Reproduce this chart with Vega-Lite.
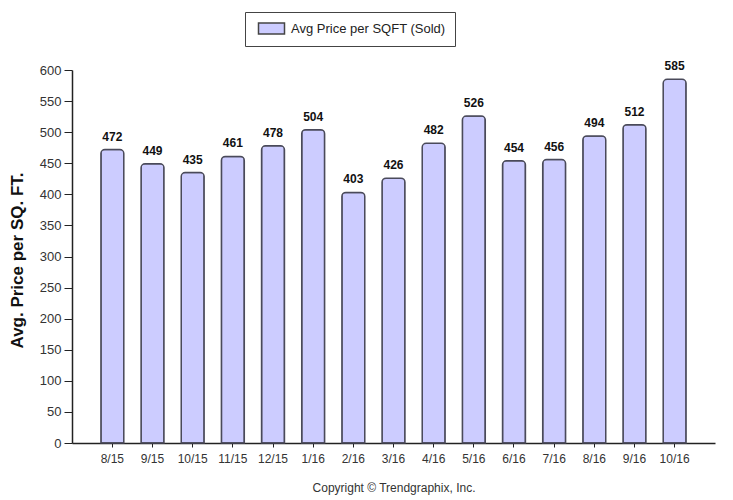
{
  "$schema": "https://vega.github.io/schema/vega-lite/v6.json",
  "width": 643,
  "height": 373,
  "autosize": {"type": "none"},
  "padding": {"left": 72, "top": 70, "right": 18, "bottom": 57},
  "background": "white",
  "config": {
    "font": "Liberation Sans",
    "view": {"stroke": null},
    "axis": {"grid": false, "domainColor": "#222", "tickColor": "#222", "labelColor": "#333", "labelFont": "Liberation Sans"}
  },
  "data": {
    "values": [
      {"month": "8/15", "price": 472, "series": "Avg Price per SQFT (Sold)"},
      {"month": "9/15", "price": 449, "series": "Avg Price per SQFT (Sold)"},
      {"month": "10/15", "price": 435, "series": "Avg Price per SQFT (Sold)"},
      {"month": "11/15", "price": 461, "series": "Avg Price per SQFT (Sold)"},
      {"month": "12/15", "price": 478, "series": "Avg Price per SQFT (Sold)"},
      {"month": "1/16", "price": 504, "series": "Avg Price per SQFT (Sold)"},
      {"month": "2/16", "price": 403, "series": "Avg Price per SQFT (Sold)"},
      {"month": "3/16", "price": 426, "series": "Avg Price per SQFT (Sold)"},
      {"month": "4/16", "price": 482, "series": "Avg Price per SQFT (Sold)"},
      {"month": "5/16", "price": 526, "series": "Avg Price per SQFT (Sold)"},
      {"month": "6/16", "price": 454, "series": "Avg Price per SQFT (Sold)"},
      {"month": "7/16", "price": 456, "series": "Avg Price per SQFT (Sold)"},
      {"month": "8/16", "price": 494, "series": "Avg Price per SQFT (Sold)"},
      {"month": "9/16", "price": 512, "series": "Avg Price per SQFT (Sold)"},
      {"month": "10/16", "price": 585, "series": "Avg Price per SQFT (Sold)"}
    ]
  },
  "encoding": {
    "x": {
      "field": "month", "type": "nominal", "sort": null,
      "scale": {"paddingInner": 0.43, "paddingOuter": 0.72},
      "axis": {
        "title": "Copyright © Trendgraphix, Inc.",
        "titleFontWeight": "normal", "titleFontSize": 12, "titleColor": "#333",
        "titlePadding": 18,
        "labelAngle": 0, "labelFontSize": 12, "labelPadding": 6,
        "tickSize": 4, "domainWidth": 1.5
      }
    },
    "y": {
      "field": "price", "type": "quantitative",
      "scale": {"domain": [0, 600]},
      "axis": {
        "title": "Avg. Price per SQ. FT.",
        "titleFontSize": 17, "titleFontWeight": "bold", "titleColor": "#111",
        "titleX": -55, "titleY": 190, "titleAngle": -90, "titleBaseline": "middle", "titleAlign": "center",
        "values": [0, 50, 100, 150, 200, 250, 300, 350, 400, 450, 500, 550, 600],
        "labelFontSize": 13, "labelPadding": 3, "tickSize": 8, "domainWidth": 1.5
      }
    }
  },
  "layer": [
    {
      "mark": {"type": "bar", "stroke": "#4a4a5a", "strokeWidth": 1.5, "cornerRadiusTopLeft": 4, "cornerRadiusTopRight": 4},
      "encoding": {
        "color": {
          "field": "series", "type": "nominal",
          "scale": {"range": ["#ccccff"]},
          "legend": {
            "title": null, "orient": "none", "legendX": 173, "legendY": -58,
            "fillColor": "white", "strokeColor": "#444", "padding": 9,
            "symbolType": "M-2,-0.84H2V0.84H-2Z", "symbolSize": 169,
            "symbolOffset": 10, "labelOffset": 12,
            "symbolStrokeColor": "#444", "symbolStrokeWidth": 1.5, "symbolOpacity": 1,
            "labelFontSize": 13, "labelColor": "#222"
          }
        }
      }
    },
    {
      "mark": {"type": "text", "fontWeight": "bold", "fontSize": 12, "color": "#111", "baseline": "alphabetic", "dy": -9},
      "encoding": {"text": {"field": "price", "type": "quantitative"}}
    }
  ]
}
